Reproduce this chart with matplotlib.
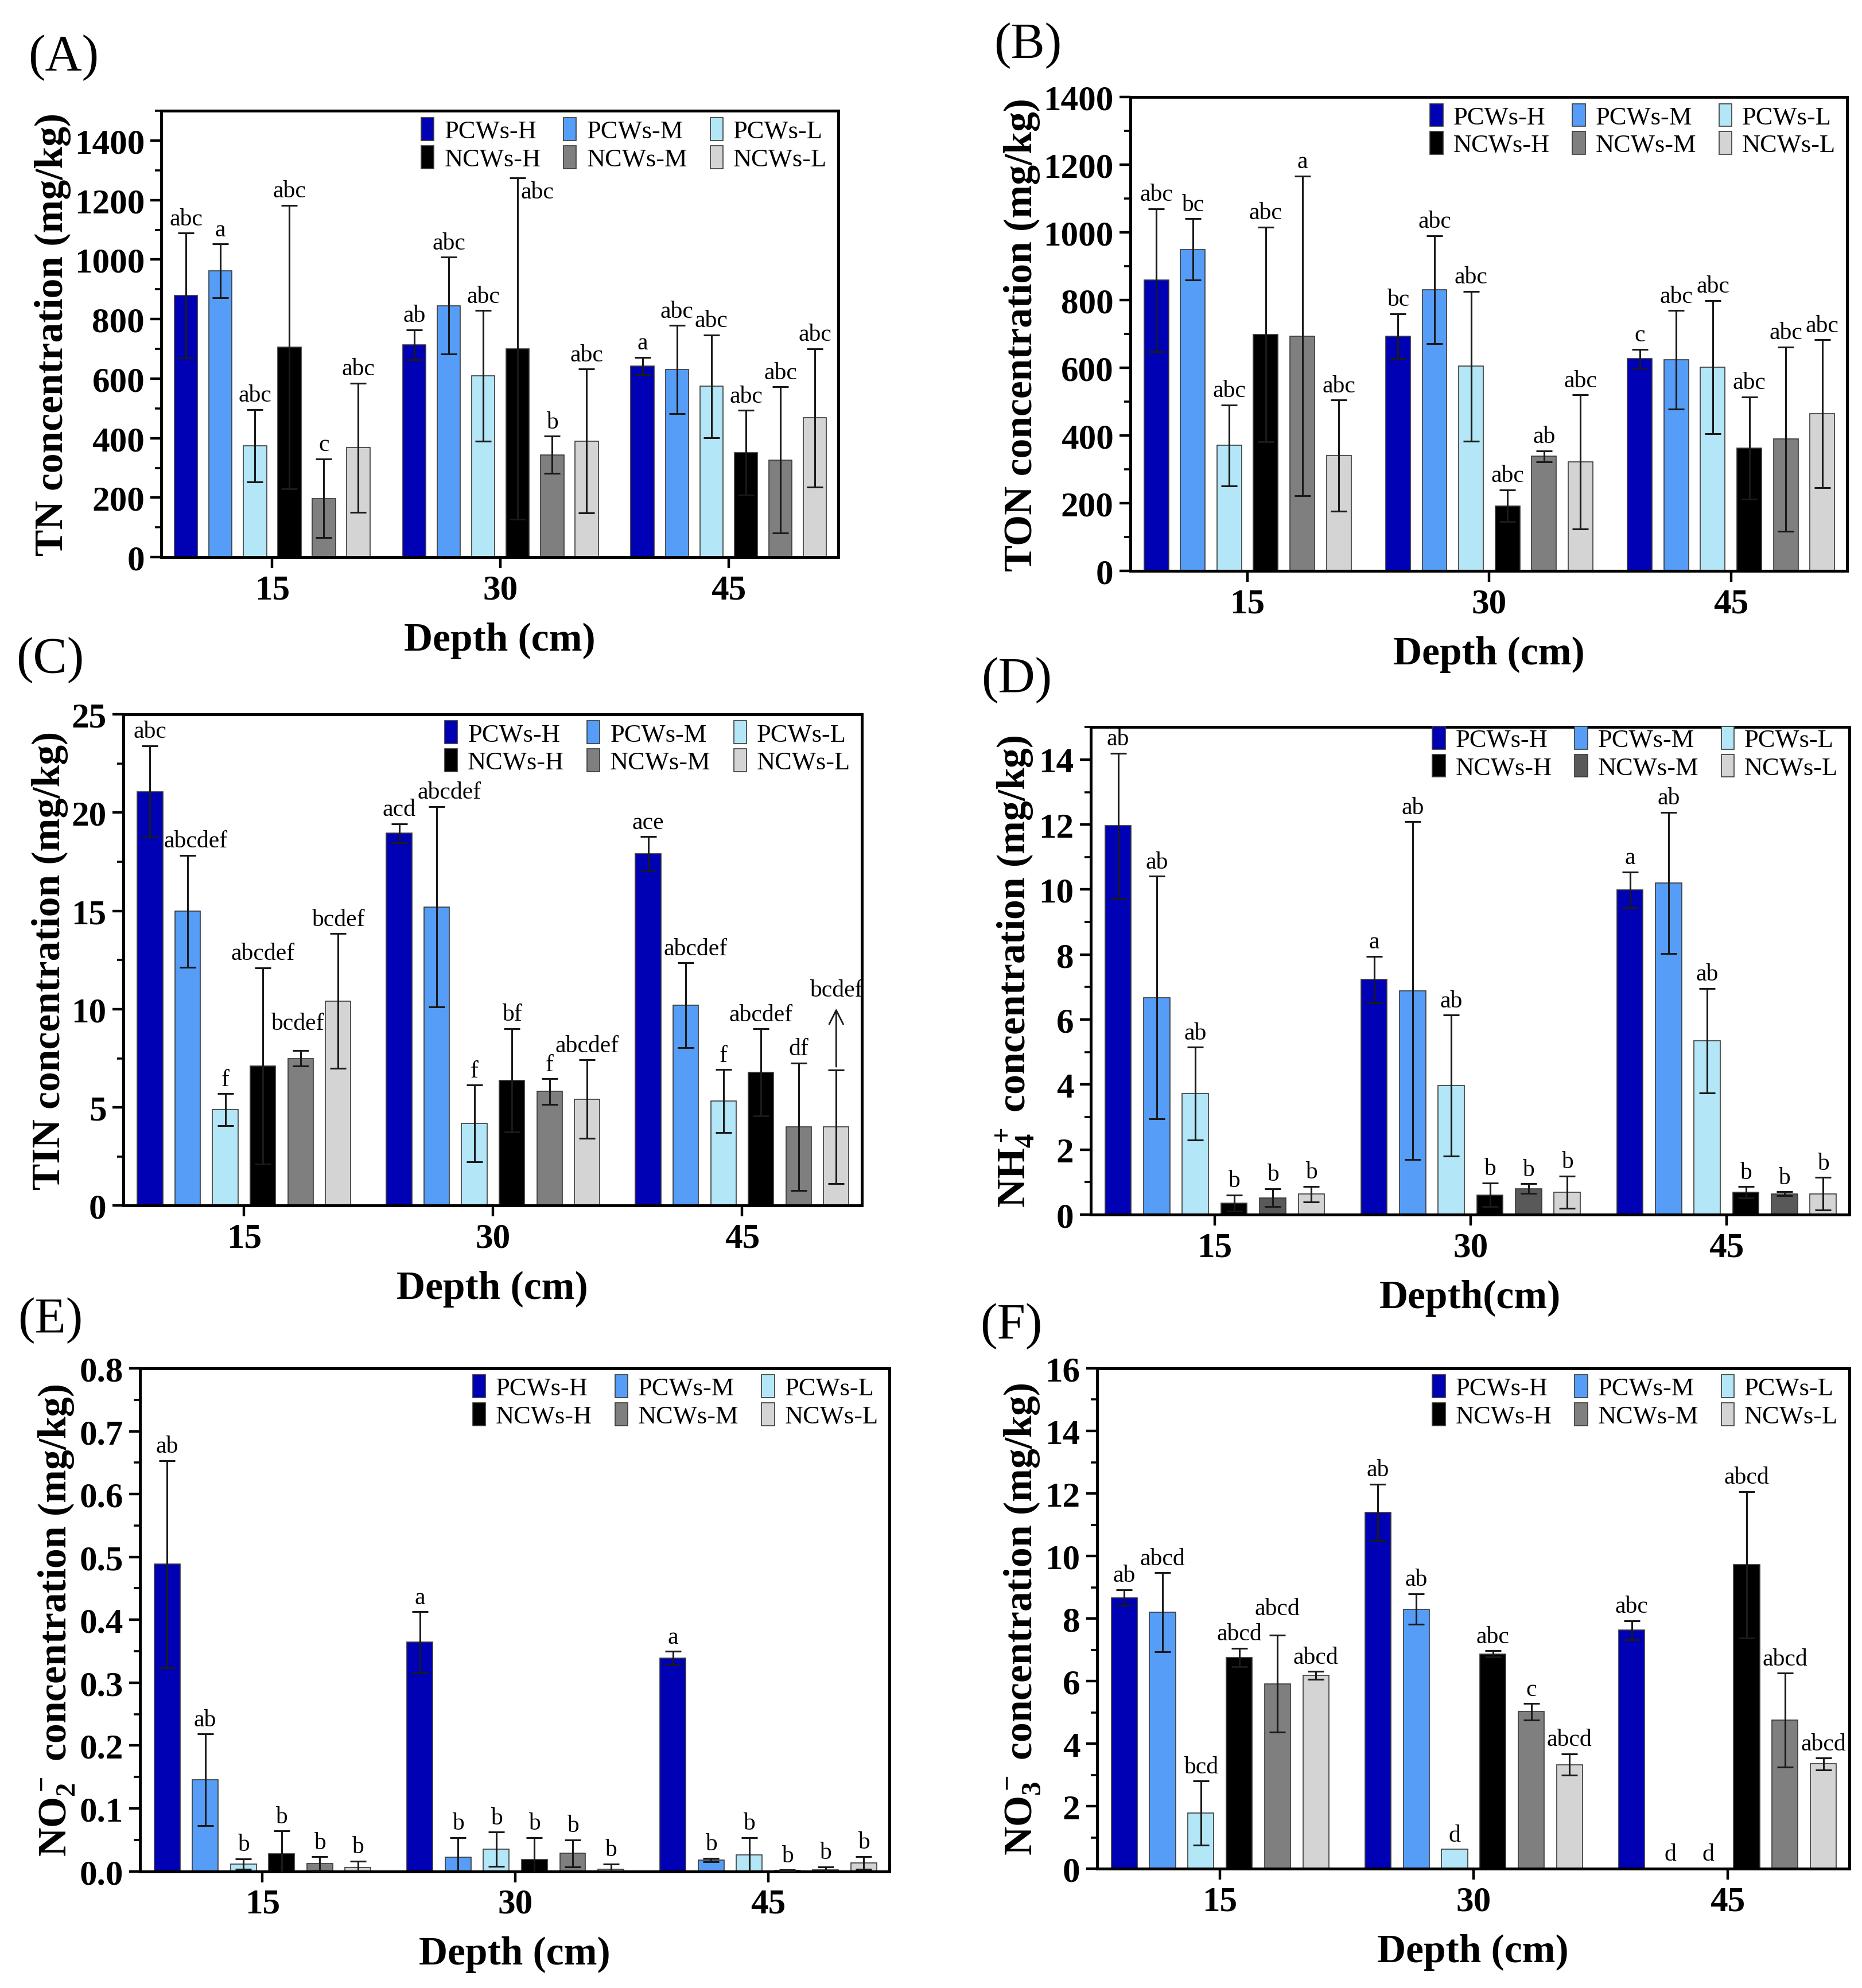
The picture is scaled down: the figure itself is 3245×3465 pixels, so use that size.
import matplotlib
matplotlib.use('Agg')
import matplotlib.pyplot as plt
import numpy as np
from matplotlib.ticker import MultipleLocator, FormatStrFormatter

plt.rcParams['font.family'] = ['Liberation Serif', 'DejaVu Serif']
plt.rcParams['mathtext.fontset'] = 'custom'
plt.rcParams['mathtext.rm'] = 'Liberation Serif:bold'
plt.rcParams['mathtext.it'] = 'Liberation Serif:italic:bold'
plt.rcParams['mathtext.bf'] = 'Liberation Serif:bold'

# ---- data (rows = depth 15/30/45, columns = series) ----
depths = ['15', '30', '45']
series = ['PCWs-H', 'PCWs-M', 'PCWs-L', 'NCWs-H', 'NCWs-M', 'NCWs-L']

tn_mean = [[879, 962, 374, 706, 198, 368],
           [714, 845, 609, 701, 344, 390],
           [643, 631, 574, 351, 327, 468]]
tn_err = [[210, 90, 122, 477, 132, 217],
          [50, 163, 220, 573, 63, 242],
          [29, 148, 173, 142, 245, 233]]
tn_sig = [['abc', 'a', 'abc', 'abc', 'c', 'abc'],
          ['ab', 'abc', 'abc', 'abc', 'b', 'abc'],
          ['a', 'abc', 'abc', 'abc', 'abc', 'abc']]

ton_mean = [[859, 950, 371, 699, 694, 341],
            [694, 831, 605, 193, 339, 322],
            [627, 624, 602, 363, 390, 465]]
ton_err = [[211, 90, 120, 317, 472, 164],
           [66, 159, 221, 47, 16, 198],
           [28, 145, 197, 151, 272, 218]]
ton_sig = [['abc', 'bc', 'abc', 'abc', 'a', 'abc'],
           ['bc', 'abc', 'abc', 'abc', 'ab', 'abc'],
           ['c', 'abc', 'abc', 'abc', 'abc', 'abc']]

tin_mean = [[21.07, 14.98, 4.89, 7.11, 7.50, 10.42],
            [18.95, 15.20, 4.19, 6.38, 5.81, 5.42],
            [17.92, 10.20, 5.33, 6.78, 4.01, 4.01]]
tin_err = [[2.33, 2.85, 0.81, 5.00, 0.40, 3.42],
           [0.48, 5.10, 1.95, 2.63, 0.65, 2.00],
           [0.85, 2.15, 1.60, 2.21, 3.25, 2.90]]
tin_sig = [['abc', 'abcdef', 'f', 'abcdef', 'bcdef', 'bcdef'],
           ['acd', 'abcdef', 'f', 'bf', 'f', 'abcdef'],
           ['ace', 'abcdef', 'f', 'abcdef', 'df', 'bcdef']]

nh4_mean = [[11.96, 6.68, 3.72, 0.36, 0.52, 0.63],
            [7.23, 6.89, 3.97, 0.61, 0.80, 0.69],
            [9.99, 10.21, 5.35, 0.69, 0.64, 0.64]]
nh4_err = [[2.24, 3.73, 1.43, 0.25, 0.28, 0.24],
           [0.72, 5.20, 2.17, 0.37, 0.15, 0.50],
           [0.55, 2.17, 1.61, 0.17, 0.06, 0.50]]
nh4_sig = [['ab', 'ab', 'ab', 'b', 'b', 'b'],
           ['a', 'ab', 'ab', 'b', 'b', 'b'],
           ['a', 'ab', 'ab', 'b', 'b', 'b']]

no2_mean = [[0.4885, 0.1454, 0.0115, 0.0280, 0.0122, 0.0064],
            [0.3646, 0.0222, 0.0350, 0.0186, 0.0287, 0.0036],
            [0.3388, 0.0179, 0.0258, 0.0014, 0.0020, 0.0136]]
no2_err = [[0.165, 0.073, 0.0085, 0.036, 0.011, 0.010],
           [0.048, 0.0315, 0.0273, 0.035, 0.0215, 0.008],
           [0.0108, 0.003, 0.028, 0.0005, 0.005, 0.010]]
no2_sig = [['ab', 'ab', 'b', 'b', 'b', 'b'],
           ['a', 'b', 'b', 'b', 'b', 'b'],
           ['a', 'b', 'b', 'b', 'b', 'b']]

no3_mean = [[8.67, 8.20, 1.78, 6.75, 5.91, 6.18],
            [11.40, 8.30, 0.62, 6.87, 5.02, 3.33],
            [7.63, 0.0, 0.0, 9.72, 4.75, 3.35]]
no3_err = [[0.25, 1.26, 1.02, 0.30, 1.55, 0.13],
           [0.90, 0.49, 0.0, 0.10, 0.26, 0.34],
           [0.30, 0.0, 0.0, 2.34, 1.50, 0.19]]
no3_sig = [['ab', 'abcd', 'bcd', 'abcd', 'abcd', 'abcd'],
           ['ab', 'ab', 'd', 'abc', 'c', 'abcd'],
           ['abc', 'd', 'd', 'abcd', 'abcd', 'abcd']]

colors = ['#0000B4', '#559DF7', '#B3E6F6', '#000000', '#7F7F7F', '#D4D4D4']
colors_d = ['#0000B4', '#559DF7', '#B3E6F6', '#000000', '#595959', '#D4D4D4']

panels = [
    dict(tag='(A)', mean=tn_mean, err=tn_err, sig=tn_sig, ylim=1500, major=200, minor=100,
         ylabel='TN concentration (mg/kg)', xlabel='Depth (cm)', fmt='%d', colors=colors,
         rect=[0.0867, 0.7195, 0.3635, 0.2245], tagxy=(0.034, 0.971), leg_y=1.01),
    dict(tag='(B)', mean=ton_mean, err=ton_err, sig=ton_sig, ylim=1400, major=200, minor=100,
         ylabel='TON concentration (mg/kg)', xlabel='Depth (cm)', fmt='%d', colors=colors,
         rect=[0.6070, 0.7125, 0.3850, 0.2385], tagxy=(0.552, 0.977), leg_y=1.01),
    dict(tag='(C)', mean=tin_mean, err=tin_err, sig=tin_sig, ylim=25, major=5, minor=2.5,
         ylabel='TIN concentration (mg/kg)', xlabel='Depth (cm)', fmt='%d', colors=colors,
         rect=[0.0662, 0.3934, 0.3966, 0.2471], tagxy=(0.027, 0.668), leg_y=1.01),
    dict(tag='(D)', mean=nh4_mean, err=nh4_err, sig=nh4_sig, ylim=15, major=2, minor=1,
         ylabel='NH$_4^+$ concentration (mg/kg)', xlabel='Depth(cm)', fmt='%d', colors=colors_d,
         rect=[0.5857, 0.3889, 0.4075, 0.2452], tagxy=(0.546, 0.658), leg_y=1.025),
    dict(tag='(E)', mean=no2_mean, err=no2_err, sig=no2_sig, ylim=0.8, major=0.1, minor=0.05,
         ylabel='NO$_2^-$ concentration (mg/kg)', xlabel='Depth (cm)', fmt='%.1f', colors=colors,
         rect=[0.0751, 0.0587, 0.4027, 0.2529], tagxy=(0.027, 0.336), leg_y=1.01),
    dict(tag='(F)', mean=no3_mean, err=no3_err, sig=no3_sig, ylim=16, major=2, minor=1,
         ylabel='NO$_3^-$ concentration (mg/kg)', xlabel='Depth (cm)', fmt='%d', colors=colors,
         rect=[0.5891, 0.0600, 0.4041, 0.2516], tagxy=(0.543, 0.333), leg_y=1.01),
]

# label tweaks: (panel, depth, series) -> (dx pt, dy pt, ha, va)
label_shift = {
    ('(A)', 1, 3): (2, -2, 'left', 'top'),
    ('(C)', 0, 1): (5, 2, 'center', 'bottom'),
    ('(C)', 0, 4): (-2, 10, 'center', 'bottom'),
    ('(C)', 1, 1): (8, 2, 'center', 'bottom'),
    ('(C)', 2, 1): (6, 2, 'center', 'bottom'),
    ('(F)', 0, 4): (0, 10, 'center', 'bottom'),
}

fig = plt.figure(figsize=(16.225, 17.33), dpi=200)
pitch = 0.151
width = 0.102
groups = np.arange(3)

for p in panels:
    ax = fig.add_axes(p['rect'])
    mean = np.array(p['mean'], dtype=float)
    err = np.array(p['err'], dtype=float)
    handles = []
    for j, name in enumerate(series):
        x = groups + (j - 2.5) * pitch
        b = ax.bar(x, mean[:, j], width, color=p['colors'][j], edgecolor='#3a3a3a',
                   linewidth=0.6, label=name, zorder=2)
        handles.append(b)
        keep = err[:, j] > 0
        ax.errorbar(x[keep], mean[keep, j], yerr=err[keep, j], fmt='none', ecolor='#1a1a1a',
                    elinewidth=1.1, capsize=5, capthick=1.1, zorder=3)
        for i in range(3):
            top = mean[i, j] + err[i, j]
            dx, dy, ha, va = label_shift.get((p['tag'], i, j), (0, 2, 'center', 'bottom'))
            ax.annotate(p['sig'][i][j], (x[i], top), xytext=(dx, dy), textcoords='offset points',
                        ha=ha, va=va, fontsize=15)
    if p['tag'] == '(C)':
        xa = groups[2] + 2.5 * pitch
        top = mean[2, 5] + err[2, 5]
        ax.annotate('', xy=(xa, 10.2), xytext=(xa, top),
                    arrowprops=dict(arrowstyle='->', color='#1a1a1a', lw=1.0, mutation_scale=22))
        for t in ax.texts:
            if t.get_text() == 'bcdef' and abs(t.xy[0] - xa) < 1e-6:
                t.xy = (xa, 10.25)

    ax.set_xlim(-0.485, 2.48)
    ax.set_ylim(0, p['ylim'])
    ax.set_xticks(groups)
    ax.set_xticklabels(depths)
    ax.yaxis.set_major_locator(MultipleLocator(p['major']))
    ax.yaxis.set_minor_locator(MultipleLocator(p['minor']))
    ax.yaxis.set_major_formatter(FormatStrFormatter(p['fmt']))
    ax.tick_params(axis='both', which='major', direction='out', length=7, width=1.6,
                   labelsize=22)
    ax.tick_params(axis='y', which='minor', direction='out', length=4, width=1.3)
    for lab in ax.get_xticklabels() + ax.get_yticklabels():
        lab.set_fontweight('bold')
    for s in ax.spines.values():
        s.set_linewidth(1.8)
    ax.set_ylabel(p['ylabel'], fontsize=25, fontweight='bold', labelpad=2)
    ax.set_xlabel(p['xlabel'], fontsize=25, fontweight='bold', labelpad=10)

    order = [0, 3, 1, 4, 2, 5]
    ax.legend([handles[k] for k in order], [series[k] for k in order], ncol=3,
              loc='upper right', bbox_to_anchor=(1.0, p['leg_y']), frameon=False,
              fontsize=16, handlelength=0.5, handleheight=1.0, handletextpad=0.4,
              columnspacing=0.9, labelspacing=0.1, borderaxespad=0.05)

    fig.text(p['tagxy'][0], p['tagxy'][1], p['tag'], fontsize=32, ha='center', va='center')

fig.savefig('out.png', dpi=200)
